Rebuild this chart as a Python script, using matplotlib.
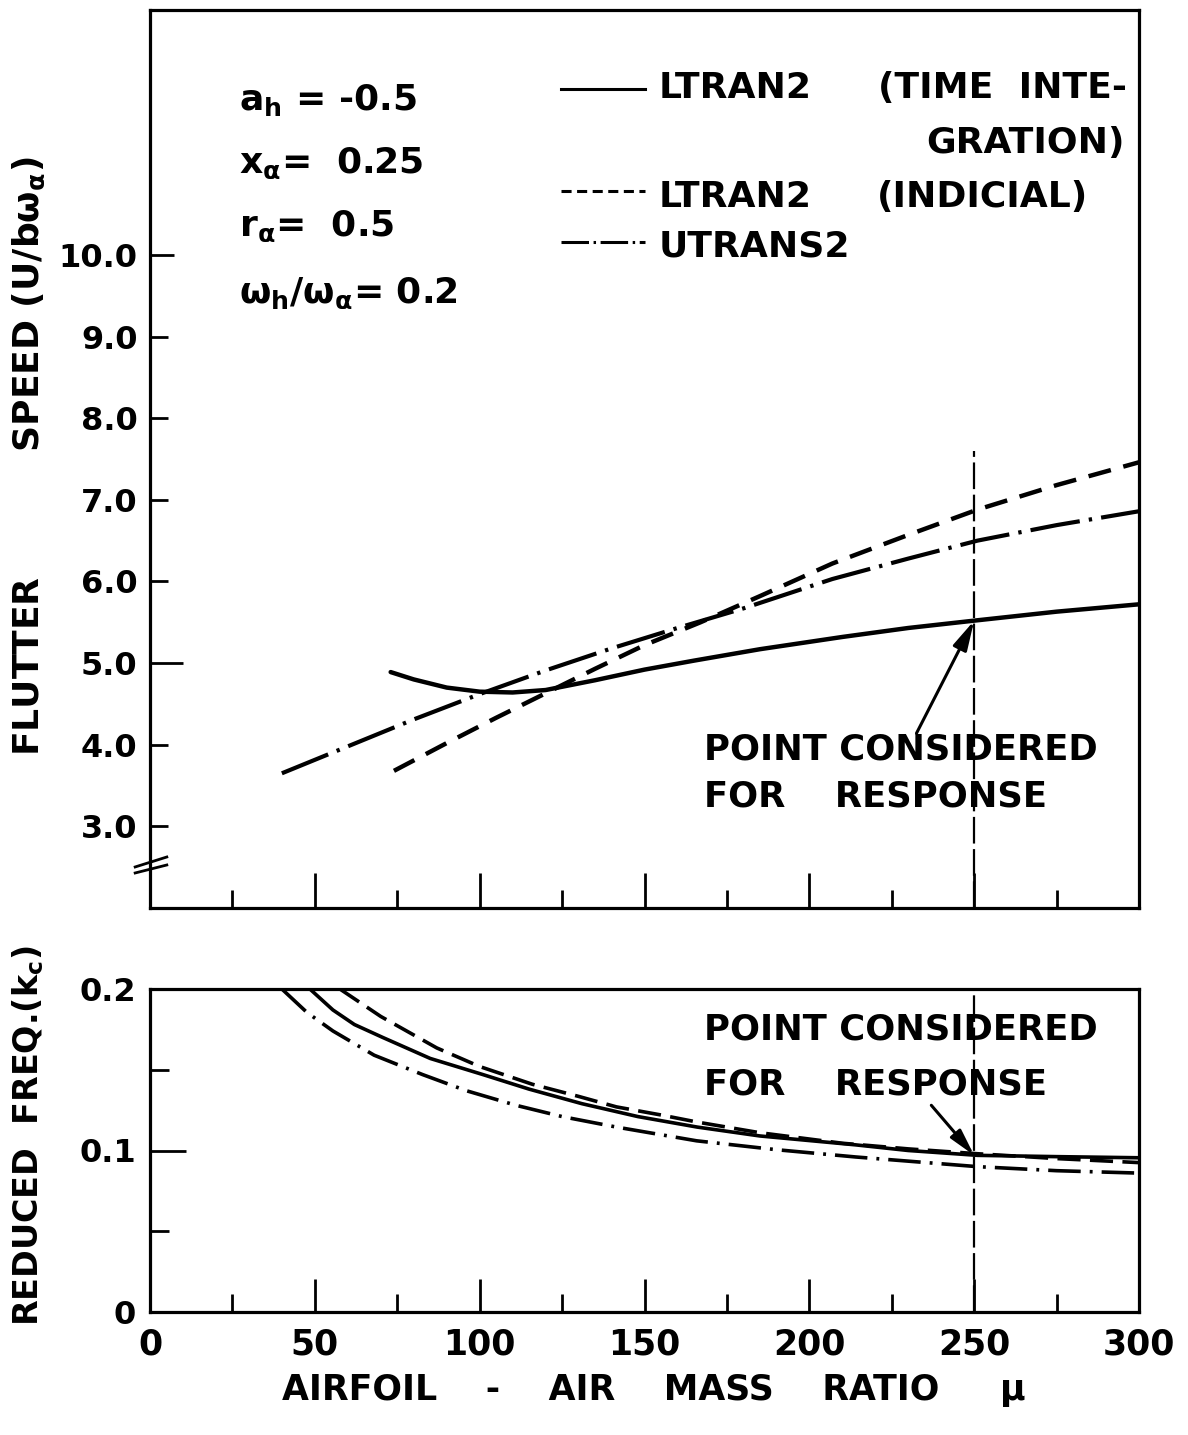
import matplotlib
matplotlib.use("Agg")
import matplotlib.pyplot as plt
from matplotlib.ticker import FixedLocator

# ---------------- data ----------------
# Flutter speed (U/b w_alpha) vs mass ratio mu
mu_speed_ti = [73, 80, 90, 100, 110, 120, 135, 150, 165, 185, 210, 230, 250, 275, 300]
speed_ti = [4.89, 4.80, 4.70, 4.65, 4.64, 4.67, 4.79, 4.92, 5.03, 5.17, 5.32, 5.43, 5.52, 5.63, 5.72]

mu_speed_ind = [74, 90, 105, 121, 135, 150, 167, 185, 207, 230, 251, 275, 300]
speed_ind = [3.68, 4.02, 4.33, 4.65, 4.93, 5.22, 5.50, 5.82, 6.22, 6.57, 6.88, 7.18, 7.46]

mu_speed_ut = [40, 60, 80, 100, 120, 140, 160, 180, 207, 230, 251, 275, 300]
speed_ut = [3.65, 3.98, 4.31, 4.62, 4.91, 5.18, 5.43, 5.67, 6.03, 6.28, 6.50, 6.69, 6.86]

# Reduced frequency k_c vs mass ratio mu
mu_k_ti = [48.5, 55.5, 62, 70.6, 85, 101, 115, 131, 148, 166, 185, 214, 230, 251, 275, 300]
k_ti = [0.200, 0.187, 0.178, 0.170, 0.157, 0.147, 0.138, 0.129, 0.121, 0.1145, 0.109,
        0.1035, 0.100, 0.097, 0.0962, 0.0955]

mu_k_ind = [57.6, 70, 87, 100, 116, 130, 141.5, 155, 166, 185, 210, 230, 251, 275, 300]
k_ind = [0.200, 0.183, 0.1635, 0.152, 0.141, 0.1335, 0.127, 0.122, 0.1176, 0.111,
         0.1045, 0.101, 0.098, 0.095, 0.0925]

mu_k_ut = [40, 47.6, 55.5, 68, 82.7, 96, 111, 125, 141.5, 165.8, 190, 214, 251, 275, 300]
k_ut = [0.200, 0.1855, 0.174, 0.159, 0.147, 0.137, 0.128, 0.121, 0.1145, 0.106, 0.1005,
        0.096, 0.090, 0.0875, 0.086]

# response point and annotation tails
mu_response = 250
speed_response = 5.52
speed_vline_top = 7.6
speed_arrow_tail = (232.5, 4.14)
k_response = 0.097
k_arrow_tail = (237, 0.128)

x_major_ticks = [0, 50, 100, 150, 200, 250, 300]
x_minor_ticks = [25, 75, 125, 175, 225, 275]
speed_ticks = [3, 4, 5, 6, 7, 8, 9, 10]
speed_tick_labels = ["3.0", "4.0", "5.0", "6.0", "7.0", "8.0", "9.0", "10.0"]
k_major_ticks = [0, 0.1, 0.2]
k_tick_labels = ["0", "0.1", "0.2"]
k_minor_ticks = [0.05, 0.15]

# ---------------- style ----------------
plt.rcParams['font.family'] = ['DejaVu Sans']
plt.rcParams['font.weight'] = 'bold'
plt.rcParams['mathtext.fontset'] = 'dejavusans'
plt.rcParams['mathtext.default'] = 'bf'

W, H = 1188, 1435
fig = plt.figure(figsize=(W / 100, H / 100), dpi=100)
L, R = 150, 1139
ax1 = fig.add_axes([L / W, 1 - 908 / H, (R - L) / W, (908 - 10) / H])
ax2 = fig.add_axes([L / W, 1 - 1312 / H, (R - L) / W, (1312 - 989) / H])

DASH_TOP = (0, (5.2, 2.9))
DASHDOT_TOP = (0, (12, 2.2, 0.8, 2.2))
DASH_BOT = (0, (6.4, 2.6))
DASHDOT_BOT = (0, (9, 2.5, 0.8, 2.5))
VLINE = (0, (12, 2.5))

for ax in (ax1, ax2):
    for s in ax.spines.values():
        s.set_linewidth(2.3)
    ax.set_xlim(0, 300)
    ax.xaxis.set_major_locator(FixedLocator(x_major_ticks))
    ax.xaxis.set_minor_locator(FixedLocator(x_minor_ticks))

# ---------------- top panel ----------------
ax1.plot(mu_speed_ti, speed_ti, color='k', lw=3.2, solid_capstyle='round')
ax1.plot(mu_speed_ind, speed_ind, color='k', lw=3.2, linestyle=DASH_TOP)
ax1.plot(mu_speed_ut, speed_ut, color='k', lw=3.0, linestyle=DASHDOT_TOP)
ax1.vlines(mu_response, 2, speed_vline_top, colors='k', lw=1.6, linestyles=[VLINE])
ax1.set_ylim(2, 13)

ax1.yaxis.set_major_locator(FixedLocator(speed_ticks))
ax1.set_yticklabels(speed_tick_labels)
ax1.tick_params(axis='x', which='major', direction='in', length=25, width=2,
                labelbottom=False, bottom=True, top=False)
ax1.tick_params(axis='x', which='minor', direction='in', length=13, width=2)
ax1.tick_params(axis='y', which='major', direction='in', length=13, width=2,
                pad=9, labelsize=23)
for t, tick in zip(speed_ticks, ax1.yaxis.get_major_ticks()):
    if t == 5:
        tick.tick1line.set_markersize(24)
    elif t == 10:
        tick.tick1line.set_markersize(17)

ax1.set_ylabel(r'FLUTTER          SPEED (U/b$\omega_\alpha$)', fontsize=26, fontweight='bold')
ax1.yaxis.set_label_coords(-0.104, 0.503)

# axis break marks
for y0, y1 in ((0.0457, 0.0568), (0.0390, 0.0479)):
    ax1.plot([-0.015, 0.017], [y0, y1], transform=ax1.transAxes, color='k',
             lw=2.0, clip_on=False)

# parameter block
ptxt = dict(transform=ax1.transAxes, fontsize=26, fontweight='bold', ha='left', va='baseline')
ax1.text(0.090, 0.889, r'$a_h$ = -0.5', **ptxt)
ax1.text(0.090, 0.818, r'$x_\alpha$=  0.25', **ptxt)
ax1.text(0.090, 0.748, r'$r_\alpha$=  0.5', **ptxt)
ax1.text(0.090, 0.674, r'$\omega_h/\omega_\alpha$= 0.2', **ptxt)

# legend
ltxt = dict(transform=ax1.transAxes, fontsize=26, fontweight='bold', ha='left', va='baseline')
ax1.plot([0.416, 0.501], [0.912, 0.912], transform=ax1.transAxes, color='k', lw=2.2)
ax1.plot([0.416, 0.501], [0.798, 0.798], transform=ax1.transAxes, color='k', lw=2.2,
         linestyle=(0, (3.3, 1.8)))
ax1.plot([0.416, 0.501], [0.742, 0.742], transform=ax1.transAxes, color='k', lw=2.2,
         linestyle=(0, (9, 1.5, 0.8, 1.5)))
ax1.text(0.514, 0.902, 'LTRAN2', **ltxt)
ax1.text(0.736, 0.902, '(TIME  INTE-', **ltxt)
ax1.text(0.986, 0.841, 'GRATION)', transform=ax1.transAxes, fontsize=26,
         fontweight='bold', ha='right', va='baseline')
ax1.text(0.514, 0.781, 'LTRAN2', **ltxt)
ax1.text(0.735, 0.781, '(INDICIAL)', **ltxt)
ax1.text(0.514, 0.725, 'UTRANS2', **ltxt)

# point considered annotation
ax1.text(168.2, 3.82, 'POINT CONSIDERED', fontsize=25.5, fontweight='bold', ha='left', va='baseline')
ax1.text(168.2, 3.24, 'FOR    RESPONSE', fontsize=25.5, fontweight='bold', ha='left', va='baseline')
ax1.annotate('', xy=(mu_response, speed_response), xytext=speed_arrow_tail,
             arrowprops=dict(arrowstyle='-|>,head_length=1.8,head_width=0.45',
                             lw=2.2, color='k', shrinkA=0, shrinkB=0, mutation_scale=10))

# ---------------- bottom panel ----------------
ax2.plot(mu_k_ti, k_ti, color='k', lw=2.6, solid_capstyle='round')
ax2.plot(mu_k_ind, k_ind, color='k', lw=2.6, linestyle=DASH_BOT)
ax2.plot(mu_k_ut, k_ut, color='k', lw=2.6, linestyle=DASHDOT_BOT)
ax2.axvline(mu_response, color='k', lw=1.6, linestyle=VLINE)
ax2.set_ylim(0, 0.2)
ax2.yaxis.set_major_locator(FixedLocator(k_major_ticks))
ax2.set_yticklabels(k_tick_labels)
ax2.yaxis.set_minor_locator(FixedLocator(k_minor_ticks))
ax2.tick_params(axis='x', which='major', direction='in', length=24, width=2,
                pad=11, labelsize=25)
ax2.tick_params(axis='x', which='minor', direction='in', length=13, width=2)
ax2.tick_params(axis='y', which='major', direction='in', length=26, width=2,
                pad=10, labelsize=23)
ax2.tick_params(axis='y', which='minor', direction='in', length=14, width=2)
for t, tick in zip(k_major_ticks, ax2.yaxis.get_major_ticks()):
    if t in (0, 0.2):
        tick.tick1line.set_markersize(0)

ax2.set_ylabel(r'REDUCED  FREQ.(k$_c$)', fontsize=24, fontweight='bold')
ax2.yaxis.set_label_coords(-0.105, 0.545)
ax2.set_xlabel('AIRFOIL    -    AIR    MASS    RATIO     μ', fontsize=25, fontweight='bold')
ax2.xaxis.set_label_coords(0.509, -0.19)

ax2.text(168.2, 0.169, 'POINT CONSIDERED', fontsize=25.5, fontweight='bold', ha='left', va='baseline')
ax2.text(168.2, 0.1346, 'FOR    RESPONSE', fontsize=25.5, fontweight='bold', ha='left', va='baseline')
ax2.annotate('', xy=(mu_response, k_response), xytext=k_arrow_tail,
             arrowprops=dict(arrowstyle='-|>,head_length=1.6,head_width=0.4',
                             lw=2.2, color='k', shrinkA=0, shrinkB=0, mutation_scale=10))

fig.savefig('out.png', dpi=100, facecolor='white')
